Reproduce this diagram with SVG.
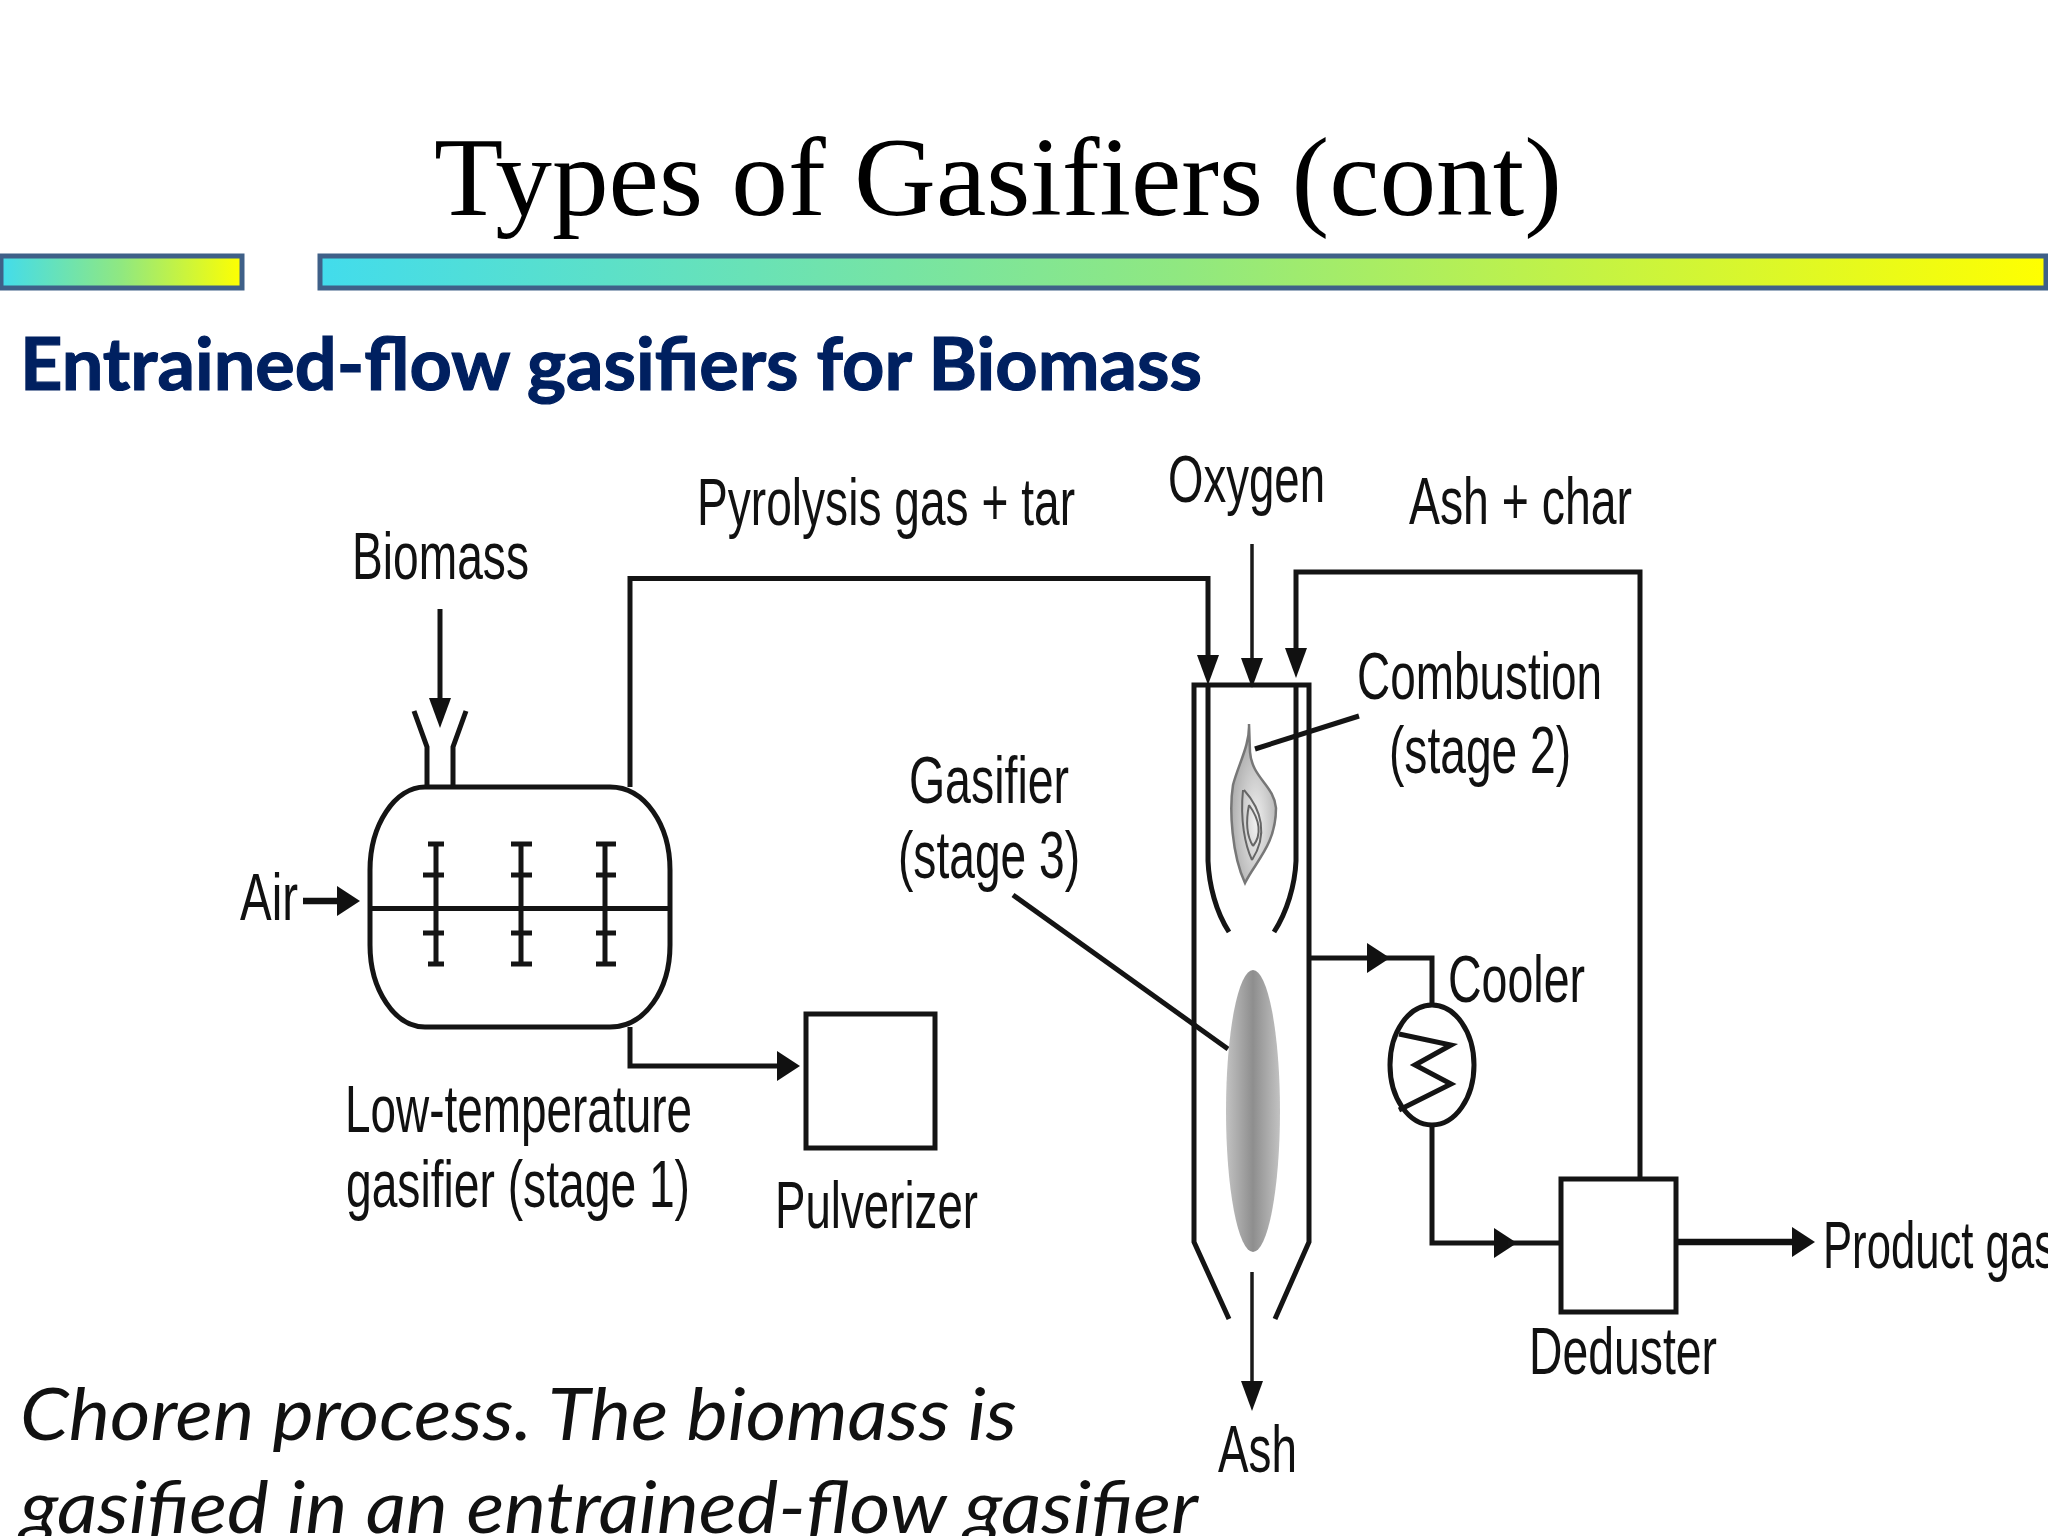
<svg xmlns="http://www.w3.org/2000/svg" width="2048" height="1536" viewBox="0 0 2048 1536">
<style>
.ln{fill:none;stroke:#141414;stroke-width:5}
.th{fill:none;stroke:#111;stroke-width:6.5}
.tn{fill:none;stroke:#1a1a1a;stroke-width:3.5}
.lb{font-family:"Liberation Sans",Arial,sans-serif;font-size:66px;fill:#111}
.bar{stroke:#3f6088;stroke-width:5}
.it{font-family:"Lato","Liberation Sans",sans-serif;font-style:italic;font-size:71px;fill:#111}
</style>
<defs>
<linearGradient id="g"><stop offset="0" stop-color="#42dcec"/><stop offset="0.5" stop-color="#90e880"/><stop offset="1" stop-color="#ffff00"/></linearGradient>
<linearGradient id="e"><stop offset="0" stop-color="#c2c2c2"/><stop offset="0.5" stop-color="#8e8e8e"/><stop offset="1" stop-color="#c2c2c2"/></linearGradient>
<radialGradient id="f" cx="0.55" cy="0.62" r="0.6"><stop offset="0" stop-color="#f0f0f0"/><stop offset="1" stop-color="#a8a8a8"/></radialGradient>
<marker id="av" markerUnits="userSpaceOnUse" markerWidth="40" markerHeight="30" refX="20" refY="15" orient="auto"><path d="M0,4 L30,15 L0,26z" fill="#111"/></marker>
<marker id="ah" markerUnits="userSpaceOnUse" markerWidth="40" markerHeight="36" refX="14" refY="18" orient="auto"><path d="M0,3 L23,18 L0,33z" fill="#111"/></marker>
</defs>
<rect width="2048" height="1536" fill="#fff"/>
<g id="header">
<text x="434" y="215" font-family="'Liberation Serif','Times New Roman',serif" font-size="112" fill="#000" textLength="1128" lengthAdjust="spacingAndGlyphs">Types of Gasifiers (cont)</text>
<rect class="bar" x="1" y="256" width="241" height="32" fill="url(#g)"/>
<rect class="bar" x="320" y="256" width="1726" height="32" fill="url(#g)"/>
<text x="20" y="390" font-family="Lato,'Liberation Sans',sans-serif" font-weight="700" font-size="73" fill="#002060" stroke="#002060" stroke-width="1.2" textLength="1182" lengthAdjust="spacingAndGlyphs">Entrained-flow gasifiers for Biomass</text>
</g>
<g id="connectors">
<path class="ln" d="M630,787V578.5H1208V675" marker-end="url(#av)"/>
<path class="tn" d="M1252,544V678" marker-end="url(#av)"/>
<path class="ln" d="M1640,1178V572H1296V668" marker-end="url(#av)"/>
<path class="ln" d="M440,609V718" marker-end="url(#av)"/>
<path class="th" d="M303,901H351" marker-end="url(#ah)"/>
<path class="ln" d="M630,1027V1066H791" marker-end="url(#ah)"/>
<path class="ln" d="M1309,958H1381" marker-end="url(#ah)"/>
<path class="ln" d="M1381,958H1432V1004"/>
<path class="ln" d="M1432,1125V1243H1508" marker-end="url(#ah)"/>
<path class="ln" d="M1508,1243H1560"/>
<path class="th" d="M1676,1242H1806" marker-end="url(#ah)"/>
<path class="tn" d="M1252,1272V1401" marker-end="url(#av)"/>
<path class="ln" d="M1255,749L1359,716"/>
<path class="ln" d="M1013,895L1228,1049"/>
</g>
<g id="stage1">
<path class="ln" d="M425,787H610C645,787 670,825 670,870V945C670,990 645,1027 610,1027H425C395,1027 370,990 370,945V870C370,825 395,787 425,787Z"/>
<path class="ln" d="M370,908.5H670"/>
<path class="ln" d="M436,844V964M428,844H444M423,875H444M423,933H444M428,964H444"/>
<path class="ln" d="M521,844V964M511,844H532M511,875H532M511,933H532M511,964H532"/>
<path class="ln" d="M605,844V964M596,844H616M596,875H616M596,933H616M596,964H616"/>
<path class="ln" d="M414,711L427,747V786M466,711L453,747V786"/>
</g>
<g id="pulverizer"><rect class="ln" x="806" y="1014" width="129" height="134"/></g>
<g id="gasifier">
<path class="ln" d="M1229,1319L1194,1242V685H1309V1242L1275,1319"/>
<path class="ln" d="M1208,685V861C1209,885 1216,912 1229,932M1296,685V861C1295,885 1287,912 1274,932"/>
<path d="M1249,724C1250,745 1238,765 1233,785C1229,810 1232,855 1245,883C1255,862 1276,845 1276,808C1274,785 1252,778 1250,752Z" fill="url(#f)" stroke="#777" stroke-width="2.5"/>
<path d="M1243,790C1240,820 1245,845 1252,860M1244,790C1262,810 1268,835 1252,860M1249,805C1245,825 1248,838 1253,846M1249,805C1260,820 1262,835 1253,846" fill="none" stroke="#666" stroke-width="2"/>
<ellipse cx="1253" cy="1111" rx="27" ry="141" fill="url(#e)"/>
</g>
<g id="cooler">
<ellipse class="ln" cx="1432" cy="1065" rx="42" ry="60"/>
<path class="ln" d="M1399,1034L1451,1045L1415,1065L1451,1084L1399,1110"/>
</g>
<g id="deduster">
<rect class="ln" x="1561" y="1179" width="115" height="133"/>
</g>
<g id="labels">
<text class="lb" x="697" y="525" textLength="378" lengthAdjust="spacingAndGlyphs">Pyrolysis gas + tar</text>
<text class="lb" x="1168" y="502" textLength="157" lengthAdjust="spacingAndGlyphs">Oxygen</text>
<text class="lb" x="1409" y="524" textLength="223" lengthAdjust="spacingAndGlyphs">Ash + char</text>
<text class="lb" x="352" y="579" textLength="177" lengthAdjust="spacingAndGlyphs">Biomass</text>
<text class="lb" x="240" y="920" textLength="58" lengthAdjust="spacingAndGlyphs">Air</text>
<text class="lb" x="1357" y="699" textLength="245" lengthAdjust="spacingAndGlyphs">Combustion</text>
<text class="lb" x="1389" y="773" textLength="182" lengthAdjust="spacingAndGlyphs">(stage 2)</text>
<text class="lb" x="909" y="803" textLength="160" lengthAdjust="spacingAndGlyphs">Gasifier</text>
<text class="lb" x="898" y="878" textLength="182" lengthAdjust="spacingAndGlyphs">(stage 3)</text>
<text class="lb" x="1448" y="1002" textLength="137" lengthAdjust="spacingAndGlyphs">Cooler</text>
<text class="lb" x="345" y="1132" textLength="347" lengthAdjust="spacingAndGlyphs">Low-temperature</text>
<text class="lb" x="346" y="1207" textLength="344" lengthAdjust="spacingAndGlyphs">gasifier (stage 1)</text>
<text class="lb" x="775" y="1228" textLength="203" lengthAdjust="spacingAndGlyphs">Pulverizer</text>
<text class="lb" x="1823" y="1268" textLength="233" lengthAdjust="spacingAndGlyphs">Product gas</text>
<text class="lb" x="1529" y="1374" textLength="188" lengthAdjust="spacingAndGlyphs">Deduster</text>
<text class="lb" x="1218" y="1472" textLength="79" lengthAdjust="spacingAndGlyphs">Ash</text>
</g>
<g id="caption">
<text class="it" x="20" y="1440" textLength="997" lengthAdjust="spacingAndGlyphs">Choren process. The biomass is</text>
<text class="it" x="20" y="1533" textLength="1178" lengthAdjust="spacingAndGlyphs">gasified in an entrained-flow gasifier</text>
</g>
</svg>
